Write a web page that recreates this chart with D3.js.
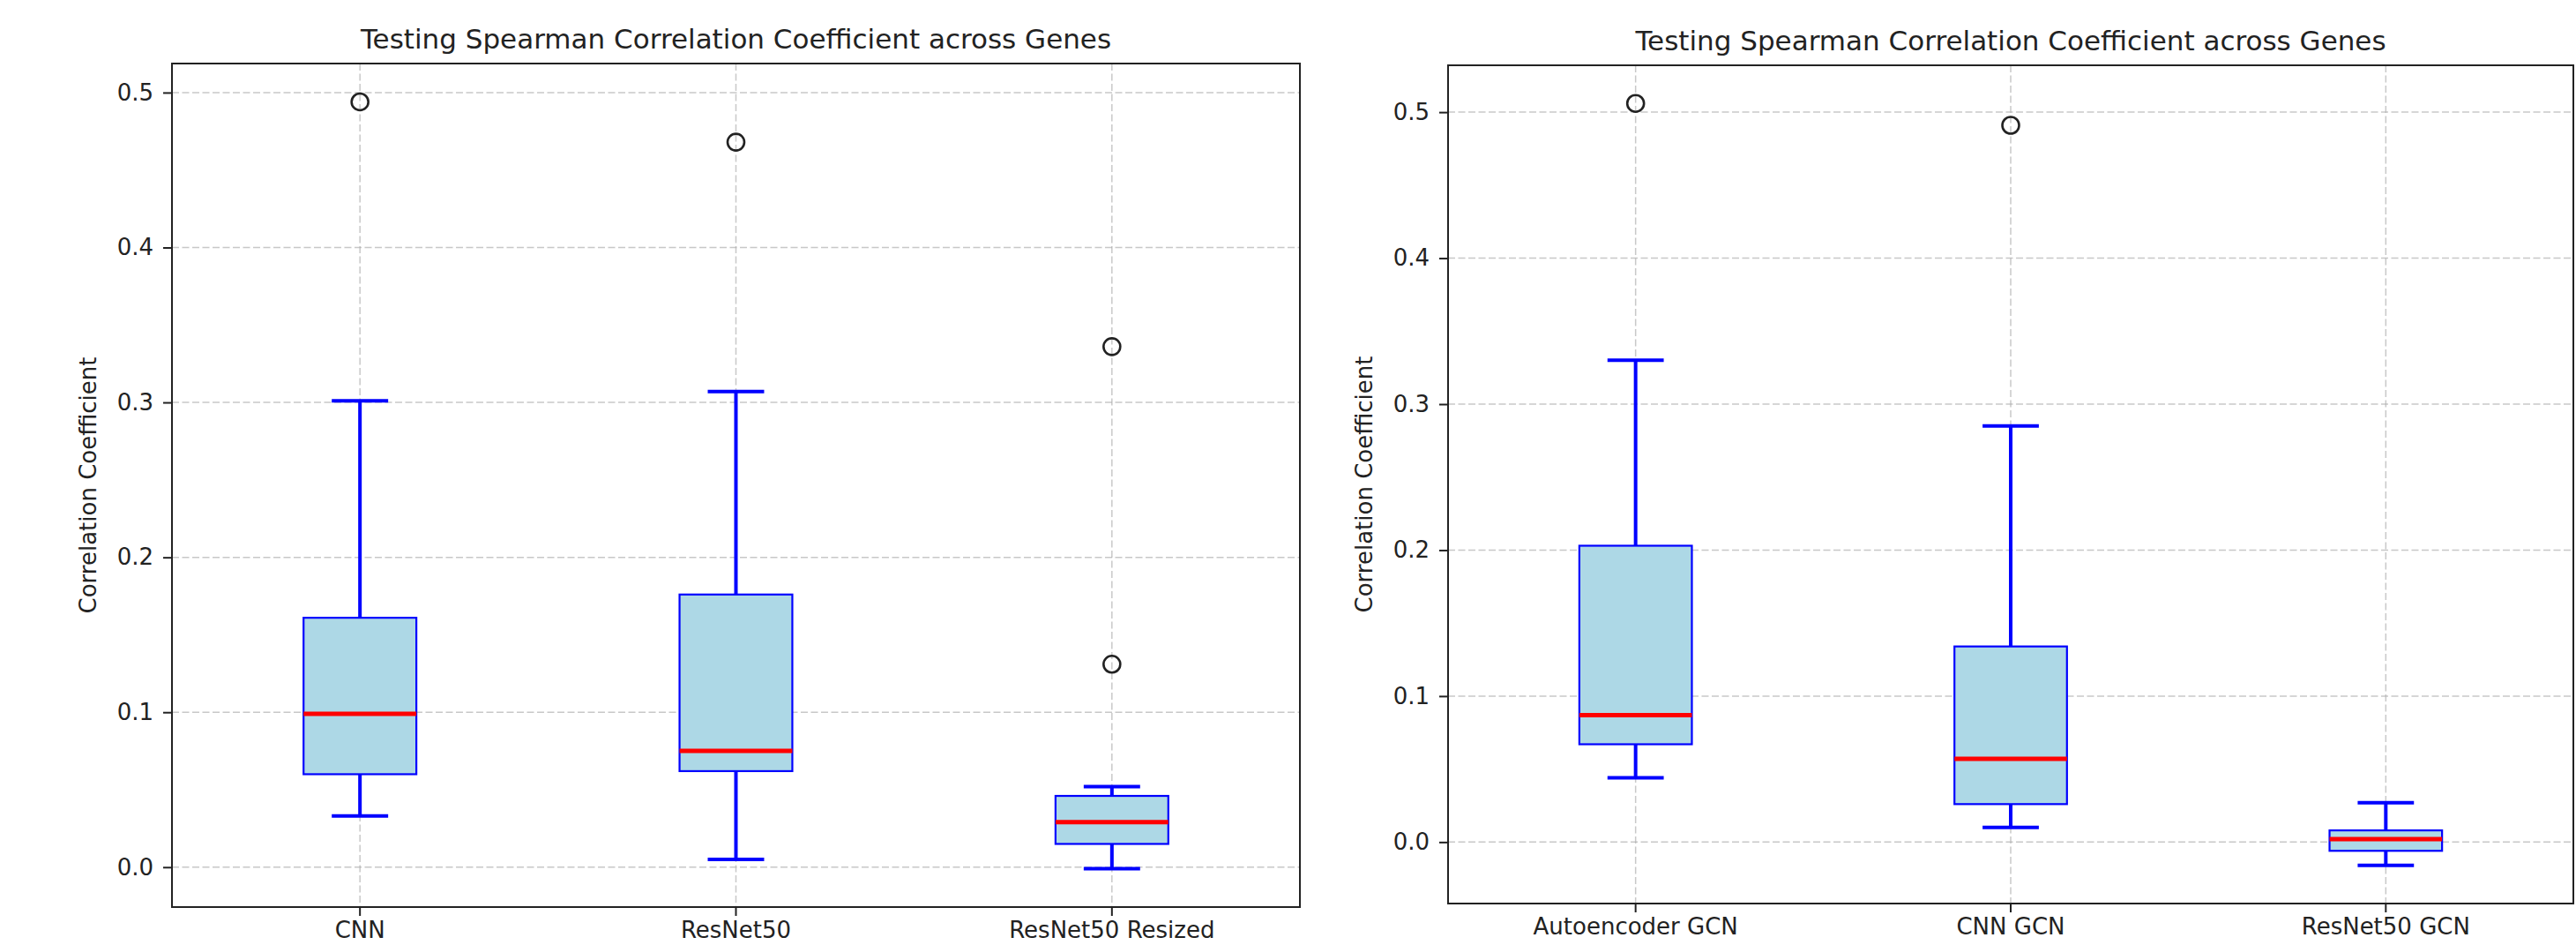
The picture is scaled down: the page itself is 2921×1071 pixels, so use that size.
<!DOCTYPE html>
<html>
<head>
<meta charset="utf-8">
<script src="https://cdn.jsdelivr.net/npm/d3@7"></script>
<style>
  body { margin: 0; background: #fff; }
  svg { display: block; }
  text { font-family: "DejaVu Sans", sans-serif; fill: #222; }
</style>
</head>
<body>
<script>
// chart values
const title = "Testing Spearman Correlation Coefficient across Genes";
const yLabel = "Correlation Coefficient";
const yTicks = [0.0, 0.1, 0.2, 0.3, 0.4, 0.5];

const leftCategories = ["CNN", "ResNet50", "ResNet50 Resized"];
const leftWhiskerLow = [0.033, 0.005, -0.001];
const leftQ1 = [0.060, 0.062, 0.015];
const leftMedian = [0.099, 0.075, 0.029];
const leftQ3 = [0.161, 0.176, 0.046];
const leftWhiskerHigh = [0.301, 0.307, 0.052];
const leftOutliers = [[0.494], [0.468], [0.336, 0.131]];

const rightCategories = ["Autoencoder GCN", "CNN GCN", "ResNet50 GCN"];
const rightWhiskerLow = [0.044, 0.010, -0.016];
const rightQ1 = [0.067, 0.026, -0.006];
const rightMedian = [0.087, 0.057, 0.002];
const rightQ3 = [0.203, 0.134, 0.008];
const rightWhiskerHigh = [0.330, 0.285, 0.027];
const rightOutliers = [[0.506], [0.491], []];

const W = 2921, H = 1071;
const svg = d3.select("body").append("svg").attr("width", W).attr("height", H);

function boxRows(cats, lo, q1, med, q3, hi, out) {
  return cats.map((c, i) => ({cat: c, lo: lo[i], q1: q1[i], med: med[i], q3: q3[i], hi: hi[i], out: out[i]}));
}

function panel(rows, box) {
  // box = {x0, x1, y0, y1} in pixels
  const g = svg.append("g");
  const x = d3.scaleBand().domain(rows.map(d => d.cat)).range([box.x0, box.x1]).padding(0);
  const all = rows.flatMap(d => [d.lo, d.hi, ...d.out]);
  const mn = d3.min(all), mx = d3.max(all), pad = (mx - mn) * 0.05;
  const y = d3.scaleLinear().domain([mn - pad, mx + pad]).range([box.y1, box.y0]);
  const cx = d => x(d.cat) + x.bandwidth() / 2;
  const bw = x.bandwidth() * 0.3;

  // grid
  const grid = g.append("g").attr("stroke", "#b0b0b0").attr("stroke-opacity", 0.7)
      .attr("stroke-width", 1.5).attr("stroke-dasharray", "8,3.5");
  grid.selectAll(".gy").data(yTicks).join("line")
      .attr("x1", box.x0).attr("x2", box.x1).attr("y1", d => y(d)).attr("y2", d => y(d));
  grid.selectAll(".gx").data(rows).join("line")
      .attr("x1", cx).attr("x2", cx).attr("y1", box.y0).attr("y2", box.y1);

  const b = g.selectAll(".box").data(rows).join("g");
  // whiskers
  b.append("line").attr("x1", cx).attr("x2", cx).attr("y1", d => y(d.q3)).attr("y2", d => y(d.hi))
      .attr("stroke", "blue").attr("stroke-width", 4);
  b.append("line").attr("x1", cx).attr("x2", cx).attr("y1", d => y(d.q1)).attr("y2", d => y(d.lo))
      .attr("stroke", "blue").attr("stroke-width", 4);
  // caps
  b.append("line").attr("x1", d => cx(d) - bw / 4).attr("x2", d => cx(d) + bw / 4)
      .attr("y1", d => y(d.hi)).attr("y2", d => y(d.hi)).attr("stroke", "blue").attr("stroke-width", 4);
  b.append("line").attr("x1", d => cx(d) - bw / 4).attr("x2", d => cx(d) + bw / 4)
      .attr("y1", d => y(d.lo)).attr("y2", d => y(d.lo)).attr("stroke", "blue").attr("stroke-width", 4);
  // box
  b.append("rect").attr("x", d => cx(d) - bw / 2).attr("width", bw)
      .attr("y", d => y(d.q3)).attr("height", d => y(d.q1) - y(d.q3))
      .attr("fill", "lightblue").attr("stroke", "blue").attr("stroke-width", 2.2);
  // median
  b.append("line").attr("x1", d => cx(d) - bw / 2).attr("x2", d => cx(d) + bw / 2)
      .attr("y1", d => y(d.med)).attr("y2", d => y(d.med)).attr("stroke", "red").attr("stroke-width", 5);
  // fliers
  b.selectAll("circle").data(d => d.out.map(v => ({d, v}))).join("circle")
      .attr("cx", o => cx(o.d)).attr("cy", o => y(o.v)).attr("r", 9.5)
      .attr("fill", "none").attr("stroke", "#222").attr("stroke-width", 2.6);

  // axes
  const ya = g.append("g").attr("transform", `translate(${box.x0},0)`)
      .call(d3.axisLeft(y).tickValues(yTicks).tickFormat(d3.format(".1f")).tickSize(10).tickPadding(11));
  const xa = g.append("g").attr("transform", `translate(0,${box.y1})`)
      .call(d3.axisBottom(x).tickSize(10).tickPadding(7));
  [ya, xa].forEach(a => {
    a.select(".domain").remove();
    a.selectAll(".tick line").attr("stroke", "#222").attr("stroke-width", 2);
    a.selectAll(".tick text").attr("font-size", 26).attr("font-family", "DejaVu Sans").attr("fill", "#222");
  });

  g.append("rect").attr("x", box.x0).attr("y", box.y0)
      .attr("width", box.x1 - box.x0).attr("height", box.y1 - box.y0)
      .attr("fill", "none").attr("stroke", "#222").attr("stroke-width", 2);

  g.append("text").attr("x", (box.x0 + box.x1) / 2).attr("y", box.y0 - 17)
      .attr("text-anchor", "middle").attr("font-size", 31).text(title);
  g.append("text")
      .attr("transform", `translate(${box.x0 - 86},${(box.y0 + box.y1) / 2}) rotate(-90)`)
      .attr("text-anchor", "middle").attr("font-size", 26).text(yLabel);
}

panel(boxRows(leftCategories, leftWhiskerLow, leftQ1, leftMedian, leftQ3, leftWhiskerHigh, leftOutliers),
      {x0: 195, x1: 1474, y0: 72, y1: 1028});
panel(boxRows(rightCategories, rightWhiskerLow, rightQ1, rightMedian, rightQ3, rightWhiskerHigh, rightOutliers),
      {x0: 1642, x1: 2918, y0: 74, y1: 1024});
</script>
</body>
</html>
